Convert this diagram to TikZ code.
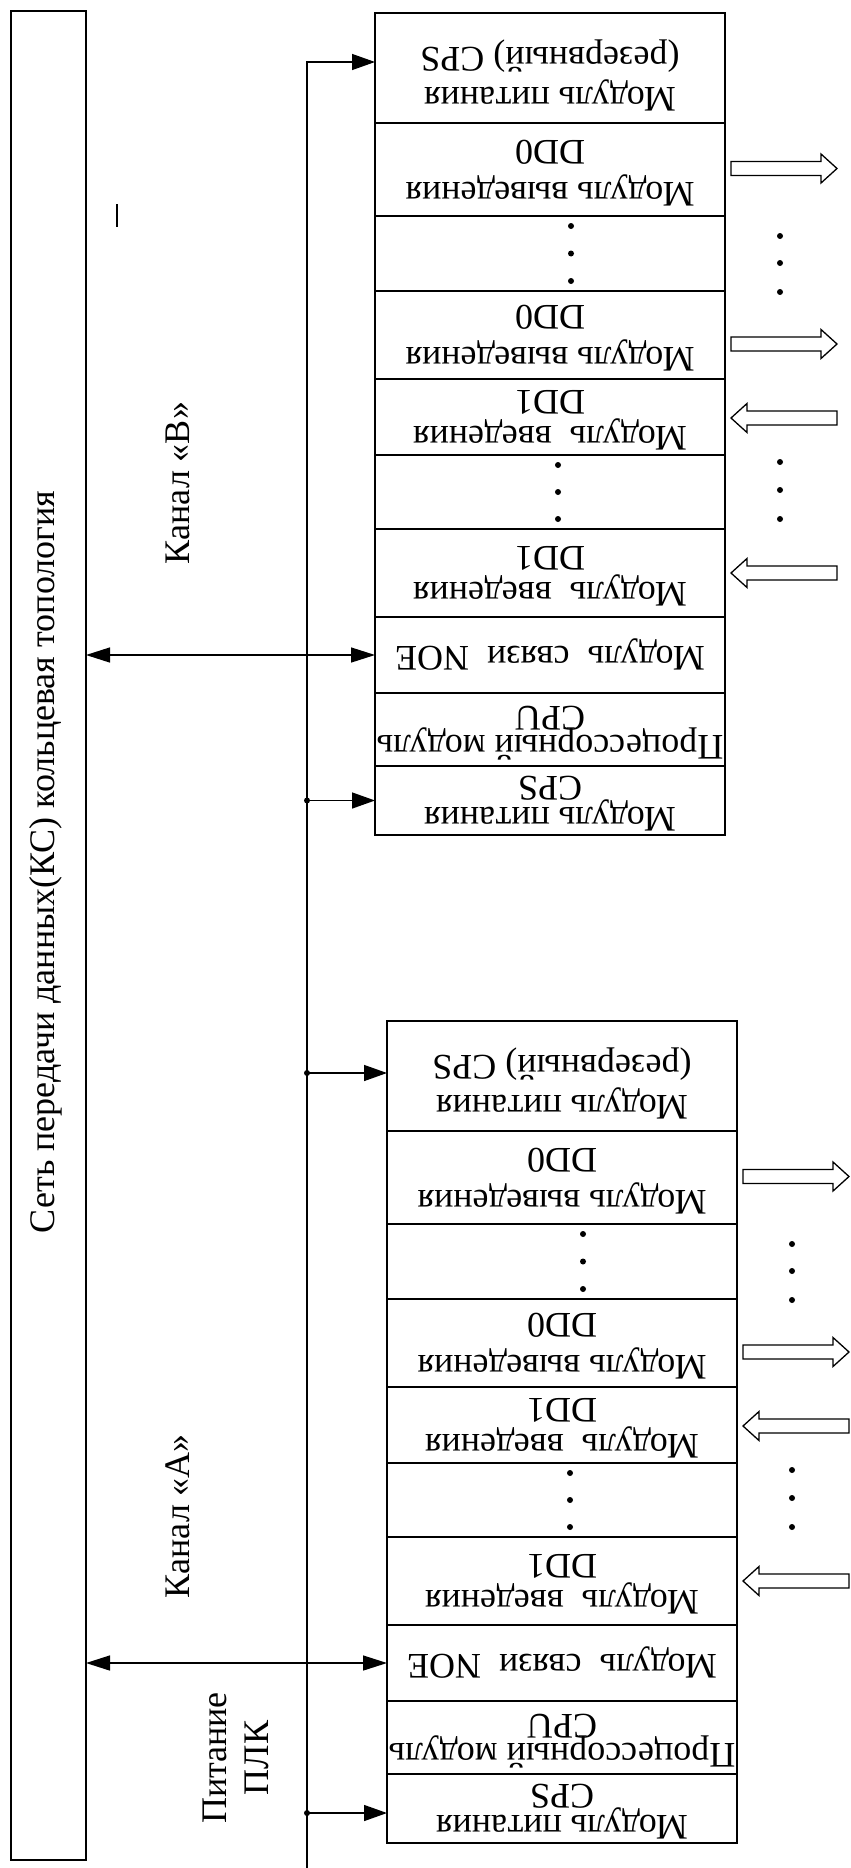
\documentclass[tikz,border=0pt]{standalone}
\usepackage{fontspec}
\setmainfont{Liberation Serif}
\usepackage{graphicx}
\usetikzlibrary{positioning,arrows.meta}

% upside-down cell text
\newcommand{\ud}[1]{\rotatebox[origin=c]{180}{\begin{tabular}{@{}c@{}}#1\end{tabular}}}

\tikzset{
  cell/.style={draw, line width=1.6pt, minimum width=350pt, inner sep=0pt, outer sep=0pt},
  celltxt/.style={font=\fontsize{36}{42}\selectfont, inner sep=0pt},
  txt/.style={label={[celltxt]center:\ud{#1}}},
  lowtxt/.style={label={[celltxt, yshift=-8pt]center:\ud{#1}}},
  wire/.style={line width=1.4pt},
  arr/.style={-{Triangle[length=23pt,width=16pt]}},
  arrtwo/.style={{Triangle[length=24pt,width=15pt]}-{Triangle[length=24pt,width=15pt]}},
  blk/.style={draw, line width=1.3pt, fill=white},
  lbl/.style={rotate=90, font=\fontsize{36}{42}\selectfont, align=center},
  pics/outarr/.style={code={\draw[blk] (0,-7) -- (90,-7) -- (90,-14.5) -- (106,0) -- (90,14.5) -- (90,7) -- (0,7) -- cycle;}},
  pics/inarr/.style={code={\draw[blk] (0,0) -- (16,-14.5) -- (16,-7) -- (106,-7) -- (106,7) -- (16,7) -- (16,14.5) -- cycle;}}
}

\begin{document}
\begin{tikzpicture}[x=1pt,y=-1pt]
\useasboundingbox (0,0) rectangle (851,1868);

% network bar
\node[draw, line width=1.6pt, minimum width=75pt, minimum height=1849pt, anchor=north west,
  inner sep=0pt, outer sep=0pt] (bar) at (11,11) {};
\node[lbl] (net) at (46,862) {Сеть передачи данных(КС) кольцевая топология};
\draw[wire] (117,204) -- (117,227);

\node[lbl] (chb) at (178,483) {Канал «В»};
\node[lbl] (cha) at (178,1516) {Канал «А»};
\node[lbl] (pwr) at (236,1758) {Питание\\ПЛК};

% two racks
\foreach \rk/\X/\Y in {b/375/13, a/387/1021}{
  \node[cell, minimum height=110pt, anchor=north west,
    lowtxt={Модуль питания\\[-2pt](резервный) CPS}] (\rk1) at (\X,\Y) {};
  \node[cell, minimum height=93pt, below=0pt of \rk1, txt={Модуль выведения\\DD0}] (\rk2) {};
  \node[cell, minimum height=75pt, below=0pt of \rk2] (\rk3) {};
  \node[cell, minimum height=88pt, below=0pt of \rk3, txt={Модуль выведения\\DD0}] (\rk4) {};
  \node[cell, minimum height=76pt, below=0pt of \rk4, txt={Модуль~~введения\\[-6pt]DD1}] (\rk5) {};
  \node[cell, minimum height=74pt, below=0pt of \rk5] (\rk6) {};
  \node[cell, minimum height=88pt, below=0pt of \rk6, txt={Модуль~~введения\\[-6pt]DD1}] (\rk7) {};
  \node[cell, minimum height=76pt, below=0pt of \rk7, txt={Модуль~~связи~~NOE}] (\rk8) {};
  \node[cell, minimum height=73pt, below=0pt of \rk8, txt={Процессорный модуль\\[-13pt]CPU}] (\rk9) {};
  \node[cell, minimum height=69pt, below=0pt of \rk9, txt={Модуль питания\\[-11pt]CPS}] (\rk10) {};
  % dots
  \foreach \d in {-27.5,0,27.5} \fill ([shift={(196,\d)}]\rk3.west) circle (3pt);
  \foreach \d in {-27,0,27} \fill ([shift={(183,\d)}]\rk6.west) circle (3pt);
  \foreach \d in {-17.5,9.5,38.5} \fill ([shift={(55,\d)}]\rk3.east) circle (3pt);
  \foreach \d in {-30,-2,27} \fill ([shift={(55,\d)}]\rk6.east) circle (3pt);
  % discrete signals
  \pic at ([shift={(6,-1)}]\rk2.east) {outarr};
  \pic at ([shift={(6,9)}]\rk4.east) {outarr};
  \pic at ([shift={(6,1)}]\rk5.east) {inarr};
  \pic at ([shift={(6,0)}]\rk7.east) {inarr};
  % ring network
  \draw[wire, arrtwo] (\rk8.west -| bar.east) -- (\rk8.west);
}

% power bus
\coordinate (busend) at (307,1868);
\draw[wire, arr] (busend) |- ([yshift=6pt]b1.west);
\draw[wire, arr] (b10.west -| busend) -- (b10.west);
\draw[wire, arr] ([yshift=3pt]a1.west -| busend) -- ([yshift=3pt]a1.west);
\draw[wire, arr] ([yshift=-4.5pt]a10.west -| busend) -- ([yshift=-4.5pt]a10.west);
\fill (b10.west -| busend) circle (3pt);
\fill ([yshift=3pt]a1.west -| busend) circle (3pt);
\fill ([yshift=-4.5pt]a10.west -| busend) circle (3pt);
\end{tikzpicture}
\end{document}
